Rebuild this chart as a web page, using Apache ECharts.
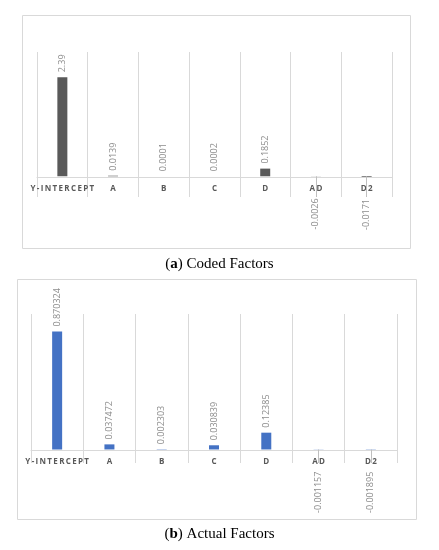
<!DOCTYPE html>
<html>
<head>
<meta charset="utf-8">
<script src="https://cdn.jsdelivr.net/npm/echarts@6/dist/echarts.min.js"></script>
<style>
  html, body { margin: 0; padding: 0; background: #fff; }
  #chart { width: 439px; height: 550px; }
</style>
</head>
<body>
<div id="chart"></div>
<script>
// categories and values
var categories = ['Y-INTERCEPT', 'A', 'B', 'C', 'D', 'AD', 'D2'];
var codedValues = [2.39, 0.0139, 0.0001, 0.0002, 0.1852, -0.0026, -0.0171];
var actualValues = [0.870324, 0.037472, 0.002303, 0.030839, 0.12385, -0.001157, -0.001895];
var negCats = ['AD', 'D2'];

// spread the letters a bit like the Excel axis
function spaced(s) {
    return s.split('').join('\u2009');
}

// data with label side per sign
function buildData(values) {
    var out = [];
    for (var i = 0; i < values.length; i++) {
        var v = values[i];
        if (v < 0) {
            out.push({ value: v, label: { position: 'bottom', align: 'right', distance: 22 } });
        } else {
            out.push({ value: v, label: { position: 'top', align: 'left', distance: 5 } });
        }
    }
    return out;
}

function leaderLines(minVal) {
    var d = [];
    for (var i = 0; i < negCats.length; i++) {
        d.push([{ coord: [negCats[i], 0] }, { coord: [negCats[i], minVal] }]);
    }
    return d;
}

// off = pixels from grid bottom up to the zero line
function xAxisOf(idx, off) {
    return {
        type: 'category',
        gridIndex: idx,
        data: categories,
        offset: -off,
        axisLine: { onZero: false, lineStyle: { color: '#d9d9d9', width: 1 } },
        axisTick: { show: false },
        axisLabel: {
            interval: 0,
            margin: 8,
            fontSize: 8,
            fontWeight: 'bold',
            color: '#595959',
            fontFamily: 'Open Sans',
            formatter: function (v) { return spaced(v); }
        },
        splitLine: { show: true, interval: 0, lineStyle: { color: '#d9d9d9', width: 1 } }
    };
}

function yAxisOf(idx, mn, mx) {
    return {
        type: 'value',
        gridIndex: idx,
        min: mn,
        max: mx,
        axisLine: { show: false },
        axisTick: { show: false },
        axisLabel: { show: false },
        splitLine: { show: false }
    };
}

function barSeries(idx, values, color, mn) {
    return {
        type: 'bar',
        xAxisIndex: idx,
        yAxisIndex: idx,
        data: buildData(values),
        barWidth: 10,
        itemStyle: { color: color },
        label: {
            show: true,
            rotate: 90,
            verticalAlign: 'middle',
            fontSize: 9,
            color: '#8c8c8c',
            fontFamily: 'Open Sans'
        },
        markLine: {
            silent: true,
            symbol: 'none',
            label: { show: false },
            lineStyle: { color: '#bfbfbf', type: 'solid', width: 1 },
            data: leaderLines(mn)
        }
    };
}

var myChart = echarts.init(document.getElementById('chart'));
var option = {
    animation: false,
    grid: [
        { left: 37, top: 52, width: 355, height: 145 },
        { left: 31, top: 314, width: 366, height: 149 }
    ],
    xAxis: [xAxisOf(0, 20), xAxisOf(1, 13)],
    yAxis: [yAxisOf(0, -0.5, 3), yAxisOf(1, -0.1, 1)],
    series: [
        barSeries(0, codedValues, '#595959', -0.5),
        barSeries(1, actualValues, '#4472c4', -0.1)
    ],
    graphic: [
        {
            type: 'rect', silent: true, z: -1,
            shape: { x: 22.5, y: 15.5, width: 388, height: 233 },
            style: { fill: 'none', stroke: '#d9d9d9', lineWidth: 1 }
        },
        {
            type: 'rect', silent: true, z: -1,
            shape: { x: 17.5, y: 279.5, width: 399, height: 240 },
            style: { fill: 'none', stroke: '#d9d9d9', lineWidth: 1 }
        },
        {
            type: 'text', left: 'center', top: 257,
            style: {
                text: '{n|(}{b|a}{n|) Coded Factors}',
                rich: {
                    n: { fontFamily: 'Liberation Serif', fontSize: 15, fill: '#000' },
                    b: { fontFamily: 'Liberation Serif', fontSize: 15, fontWeight: 'bold', fill: '#000' }
                }
            }
        },
        {
            type: 'text', left: 'center', top: 527,
            style: {
                text: '{n|(}{b|b}{n|) Actual Factors}',
                rich: {
                    n: { fontFamily: 'Liberation Serif', fontSize: 15, fill: '#000' },
                    b: { fontFamily: 'Liberation Serif', fontSize: 15, fontWeight: 'bold', fill: '#000' }
                }
            }
        }
    ]
};
myChart.setOption(option);
</script>
</body>
</html>
